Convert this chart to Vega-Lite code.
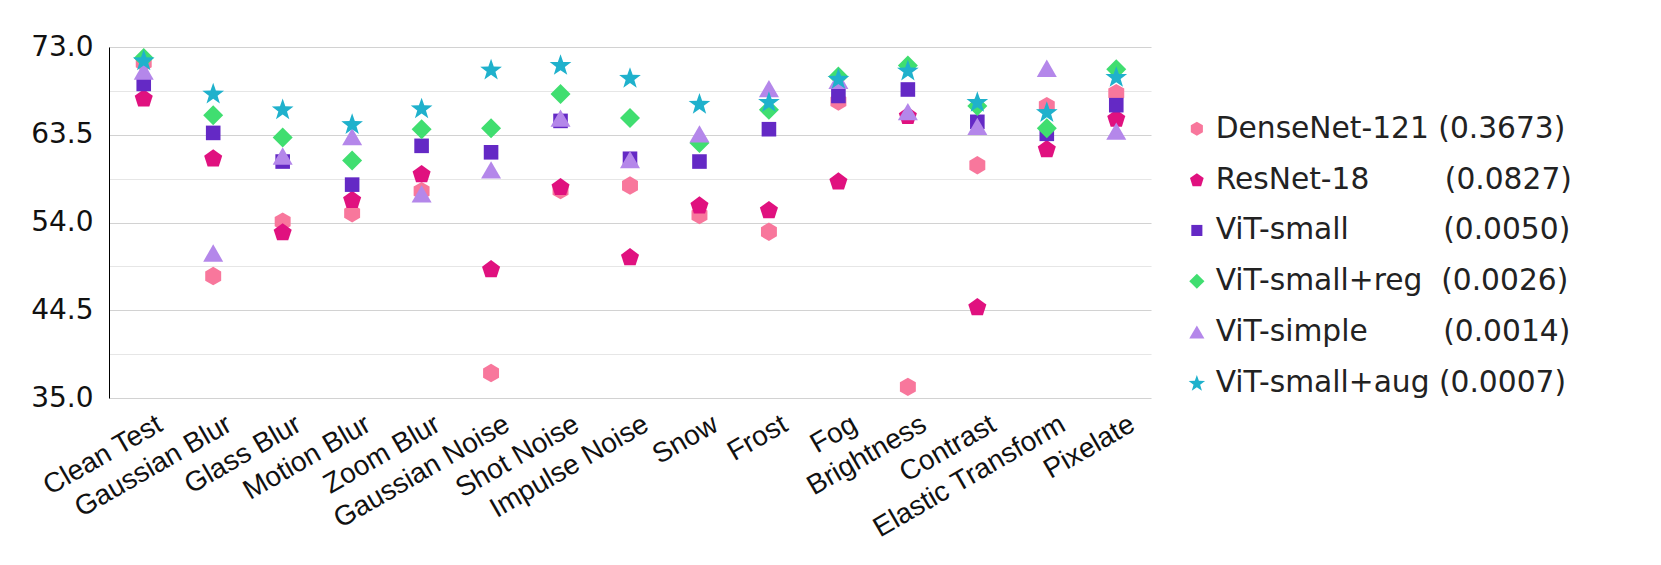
{
  "$schema": "https://vega.github.io/schema/vega-lite/v6.json",
  "width": 1042,
  "height": 351,
  "autosize": "none",
  "padding": {"left": 109, "top": 47, "right": 510, "bottom": 167},
  "background": "white",
  "config": {"view": {"stroke": null}},
  "data": {
    "values": [
      {"model": "DenseNet-121", "corruption": "Clean Test", "accuracy": 71.3},
      {"model": "DenseNet-121", "corruption": "Gaussian Blur", "accuracy": 48.2},
      {"model": "DenseNet-121", "corruption": "Glass Blur", "accuracy": 54.1},
      {"model": "DenseNet-121", "corruption": "Motion Blur", "accuracy": 55.0},
      {"model": "DenseNet-121", "corruption": "Zoom Blur", "accuracy": 57.4},
      {"model": "DenseNet-121", "corruption": "Gaussian Noise", "accuracy": 37.7},
      {"model": "DenseNet-121", "corruption": "Shot Noise", "accuracy": 57.5},
      {"model": "DenseNet-121", "corruption": "Impulse Noise", "accuracy": 58.0},
      {"model": "DenseNet-121", "corruption": "Snow", "accuracy": 54.8},
      {"model": "DenseNet-121", "corruption": "Frost", "accuracy": 53.0},
      {"model": "DenseNet-121", "corruption": "Fog", "accuracy": 67.1},
      {"model": "DenseNet-121", "corruption": "Brightness", "accuracy": 36.2},
      {"model": "DenseNet-121", "corruption": "Contrast", "accuracy": 60.2},
      {"model": "DenseNet-121", "corruption": "Elastic Transform", "accuracy": 66.6},
      {"model": "DenseNet-121", "corruption": "Pixelate", "accuracy": 68.0},
      {"model": "ResNet-18", "corruption": "Clean Test", "accuracy": 67.5},
      {"model": "ResNet-18", "corruption": "Gaussian Blur", "accuracy": 61.0},
      {"model": "ResNet-18", "corruption": "Glass Blur", "accuracy": 53.0},
      {"model": "ResNet-18", "corruption": "Motion Blur", "accuracy": 56.5},
      {"model": "ResNet-18", "corruption": "Zoom Blur", "accuracy": 59.3},
      {"model": "ResNet-18", "corruption": "Gaussian Noise", "accuracy": 49.0},
      {"model": "ResNet-18", "corruption": "Shot Noise", "accuracy": 57.9},
      {"model": "ResNet-18", "corruption": "Impulse Noise", "accuracy": 50.3},
      {"model": "ResNet-18", "corruption": "Snow", "accuracy": 55.9},
      {"model": "ResNet-18", "corruption": "Frost", "accuracy": 55.4},
      {"model": "ResNet-18", "corruption": "Fog", "accuracy": 58.5},
      {"model": "ResNet-18", "corruption": "Brightness", "accuracy": 65.6},
      {"model": "ResNet-18", "corruption": "Contrast", "accuracy": 44.9},
      {"model": "ResNet-18", "corruption": "Elastic Transform", "accuracy": 62.0},
      {"model": "ResNet-18", "corruption": "Pixelate", "accuracy": 65.3},
      {"model": "ViT-small", "corruption": "Clean Test", "accuracy": 69.0},
      {"model": "ViT-small", "corruption": "Gaussian Blur", "accuracy": 63.7},
      {"model": "ViT-small", "corruption": "Glass Blur", "accuracy": 60.6},
      {"model": "ViT-small", "corruption": "Motion Blur", "accuracy": 58.1},
      {"model": "ViT-small", "corruption": "Zoom Blur", "accuracy": 62.3},
      {"model": "ViT-small", "corruption": "Gaussian Noise", "accuracy": 61.6},
      {"model": "ViT-small", "corruption": "Shot Noise", "accuracy": 65.0},
      {"model": "ViT-small", "corruption": "Impulse Noise", "accuracy": 60.9},
      {"model": "ViT-small", "corruption": "Snow", "accuracy": 60.6},
      {"model": "ViT-small", "corruption": "Frost", "accuracy": 64.1},
      {"model": "ViT-small", "corruption": "Fog", "accuracy": 67.7},
      {"model": "ViT-small", "corruption": "Brightness", "accuracy": 68.4},
      {"model": "ViT-small", "corruption": "Contrast", "accuracy": 64.9},
      {"model": "ViT-small", "corruption": "Elastic Transform", "accuracy": 63.6},
      {"model": "ViT-small", "corruption": "Pixelate", "accuracy": 66.7},
      {"model": "ViT-small+reg", "corruption": "Clean Test", "accuracy": 71.8},
      {"model": "ViT-small+reg", "corruption": "Gaussian Blur", "accuracy": 65.6},
      {"model": "ViT-small+reg", "corruption": "Glass Blur", "accuracy": 63.2},
      {"model": "ViT-small+reg", "corruption": "Motion Blur", "accuracy": 60.7},
      {"model": "ViT-small+reg", "corruption": "Zoom Blur", "accuracy": 64.1},
      {"model": "ViT-small+reg", "corruption": "Gaussian Noise", "accuracy": 64.2},
      {"model": "ViT-small+reg", "corruption": "Shot Noise", "accuracy": 67.9},
      {"model": "ViT-small+reg", "corruption": "Impulse Noise", "accuracy": 65.3},
      {"model": "ViT-small+reg", "corruption": "Snow", "accuracy": 62.6},
      {"model": "ViT-small+reg", "corruption": "Frost", "accuracy": 66.2},
      {"model": "ViT-small+reg", "corruption": "Fog", "accuracy": 69.8},
      {"model": "ViT-small+reg", "corruption": "Brightness", "accuracy": 71.0},
      {"model": "ViT-small+reg", "corruption": "Contrast", "accuracy": 66.6},
      {"model": "ViT-small+reg", "corruption": "Elastic Transform", "accuracy": 64.2},
      {"model": "ViT-small+reg", "corruption": "Pixelate", "accuracy": 70.6},
      {"model": "ViT-simple", "corruption": "Clean Test", "accuracy": 70.4},
      {"model": "ViT-simple", "corruption": "Gaussian Blur", "accuracy": 50.7},
      {"model": "ViT-simple", "corruption": "Glass Blur", "accuracy": 61.2},
      {"model": "ViT-simple", "corruption": "Motion Blur", "accuracy": 63.3},
      {"model": "ViT-simple", "corruption": "Zoom Blur", "accuracy": 57.1},
      {"model": "ViT-simple", "corruption": "Gaussian Noise", "accuracy": 59.7},
      {"model": "ViT-simple", "corruption": "Shot Noise", "accuracy": 65.3},
      {"model": "ViT-simple", "corruption": "Impulse Noise", "accuracy": 60.8},
      {"model": "ViT-simple", "corruption": "Snow", "accuracy": 63.6},
      {"model": "ViT-simple", "corruption": "Frost", "accuracy": 68.5},
      {"model": "ViT-simple", "corruption": "Fog", "accuracy": 69.4},
      {"model": "ViT-simple", "corruption": "Brightness", "accuracy": 66.0},
      {"model": "ViT-simple", "corruption": "Contrast", "accuracy": 64.4},
      {"model": "ViT-simple", "corruption": "Elastic Transform", "accuracy": 70.7},
      {"model": "ViT-simple", "corruption": "Pixelate", "accuracy": 63.9},
      {"model": "ViT-small+aug", "corruption": "Clean Test", "accuracy": 71.6},
      {"model": "ViT-small+aug", "corruption": "Gaussian Blur", "accuracy": 68.0},
      {"model": "ViT-small+aug", "corruption": "Glass Blur", "accuracy": 66.3},
      {"model": "ViT-small+aug", "corruption": "Motion Blur", "accuracy": 64.7},
      {"model": "ViT-small+aug", "corruption": "Zoom Blur", "accuracy": 66.4},
      {"model": "ViT-small+aug", "corruption": "Gaussian Noise", "accuracy": 70.6},
      {"model": "ViT-small+aug", "corruption": "Shot Noise", "accuracy": 71.1},
      {"model": "ViT-small+aug", "corruption": "Impulse Noise", "accuracy": 69.7},
      {"model": "ViT-small+aug", "corruption": "Snow", "accuracy": 66.9},
      {"model": "ViT-small+aug", "corruption": "Frost", "accuracy": 67.1},
      {"model": "ViT-small+aug", "corruption": "Fog", "accuracy": 69.6},
      {"model": "ViT-small+aug", "corruption": "Brightness", "accuracy": 70.5},
      {"model": "ViT-small+aug", "corruption": "Contrast", "accuracy": 67.1},
      {"model": "ViT-small+aug", "corruption": "Elastic Transform", "accuracy": 66.0},
      {"model": "ViT-small+aug", "corruption": "Pixelate", "accuracy": 69.8}
    ]
  },
  "mark": {"type": "point", "filled": true, "opacity": 1, "size": 400, "strokeWidth": 0},
  "encoding": {
    "x": {
      "field": "corruption",
      "type": "nominal",
      "sort": ["Clean Test", "Gaussian Blur", "Glass Blur", "Motion Blur", "Zoom Blur", "Gaussian Noise", "Shot Noise", "Impulse Noise", "Snow", "Frost", "Fog", "Brightness", "Contrast", "Elastic Transform", "Pixelate"],
      "scale": {"type": "point", "padding": 0.5},
      "axis": {
        "title": null,
        "domain": false,
        "ticks": false,
        "grid": false,
        "labelAngle": -30,
        "labelAlign": "right",
        "labelBaseline": "top",
        "labelFont": "Liberation Sans",
        "labelFontSize": 28,
        "labelColor": "#111",
        "labelPadding": 12,
        "labelOffset": 9,
        "labelLimit": 1000,
        "labelOverlap": false
      }
    },
    "y": {
      "field": "accuracy",
      "type": "quantitative",
      "scale": {"domain": [35, 73], "nice": false, "zero": false},
      "axis": {
        "title": null,
        "values": [35, 39.75, 44.5, 49.25, 54, 58.75, 63.5, 68.25, 73],
        "labelExpr": "(datum.value == 35 || datum.value == 44.5 || datum.value == 54 || datum.value == 63.5 || datum.value == 73) ? format(datum.value, '.1f') : ''",
        "ticks": false,
        "domainColor": "#000",
        "domainWidth": 1,
        "grid": true,
        "gridColor": {"condition": {"test": "datum.value == 35 || datum.value == 44.5 || datum.value == 54 || datum.value == 63.5 || datum.value == 73", "value": "#d2d2d2"}, "value": "#e6e6e6"},
        "gridWidth": 1.2,
        "labelFont": "DejaVu Sans",
        "labelFontSize": 28,
        "labelColor": "#111",
        "labelPadding": 16,
        "labelOverlap": false
      }
    },
    "color": {
      "field": "model",
      "type": "nominal",
      "scale": {
        "domain": ["DenseNet-121", "ResNet-18", "ViT-small", "ViT-small+reg", "ViT-simple", "ViT-small+aug"],
        "range": ["#f8779c", "#e0117f", "#6429c5", "#40de70", "#b487ea", "#1fb1cc"]
      },
      "legend": {
        "title": null,
        "orient": "none",
        "legendX": 1073,
        "legendY": 67,
        "labelFont": "DejaVu Sans",
        "labelFontSize": 29.7,
        "labelColor": "#222",
        "labelLimit": 1000,
        "labelOffset": 4,
        "symbolSize": 230,
        "symbolStrokeWidth": 0,
        "rowPadding": 19.8,
        "labelExpr": "datum.label == 'DenseNet-121' ? 'DenseNet-121\u00a0(0.3673)' : datum.label == 'ResNet-18' ? 'ResNet-18\u00a0\u00a0\u00a0\u00a0\u00a0\u00a0\u00a0\u00a0(0.0827)' : datum.label == 'ViT-small' ? 'ViT-small\u00a0\u00a0\u00a0\u00a0\u00a0\u00a0\u00a0\u00a0\u00a0\u00a0(0.0050)' : datum.label == 'ViT-small+reg' ? 'ViT-small+reg\u00a0\u00a0(0.0026)' : datum.label == 'ViT-simple' ? 'ViT-simple\u00a0\u00a0\u00a0\u00a0\u00a0\u00a0\u00a0\u00a0(0.0014)' : 'ViT-small+aug\u00a0(0.0007)'"
      }
    },
    "shape": {
      "field": "model",
      "type": "nominal",
      "scale": {
        "domain": ["DenseNet-121", "ResNet-18", "ViT-small", "ViT-small+reg", "ViT-simple", "ViT-small+aug"],
        "range": [
          "M0,-0.92L0.797,-0.46L0.797,0.46L0,0.92L-0.797,0.46L-0.797,-0.46Z",
          "M0,-0.86L0.903,-0.204L0.559,0.859L-0.559,0.859L-0.903,-0.204Z",
          "M-0.73,-0.73L0.73,-0.73L0.73,0.73L-0.73,0.73Z",
          "M0,-1L1,0L0,1L-1,0Z",
          "M0,-0.866L1,0.866L-1,0.866Z",
          "M0,-1.032L0.268,-0.261L1.084,-0.244L0.434,0.249L0.67,1.03L0,0.564L-0.67,1.03L-0.434,0.249L-1.084,-0.244L-0.268,-0.261Z"
        ]
      },
      "legend": {
        "title": null,
        "orient": "none",
        "legendX": 1073,
        "legendY": 67,
        "labelFont": "DejaVu Sans",
        "labelFontSize": 29.7,
        "labelColor": "#222",
        "labelLimit": 1000,
        "labelOffset": 4,
        "symbolSize": 230,
        "symbolStrokeWidth": 0,
        "rowPadding": 19.8,
        "labelExpr": "datum.label == 'DenseNet-121' ? 'DenseNet-121\u00a0(0.3673)' : datum.label == 'ResNet-18' ? 'ResNet-18\u00a0\u00a0\u00a0\u00a0\u00a0\u00a0\u00a0\u00a0(0.0827)' : datum.label == 'ViT-small' ? 'ViT-small\u00a0\u00a0\u00a0\u00a0\u00a0\u00a0\u00a0\u00a0\u00a0\u00a0(0.0050)' : datum.label == 'ViT-small+reg' ? 'ViT-small+reg\u00a0\u00a0(0.0026)' : datum.label == 'ViT-simple' ? 'ViT-simple\u00a0\u00a0\u00a0\u00a0\u00a0\u00a0\u00a0\u00a0(0.0014)' : 'ViT-small+aug\u00a0(0.0007)'"
      }
    }
  }
}
